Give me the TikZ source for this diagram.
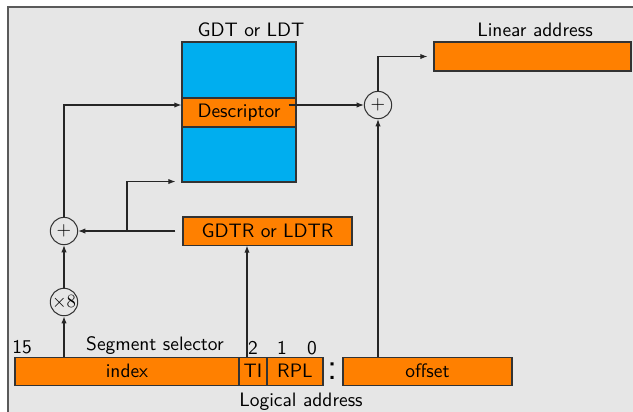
\documentclass[tikz,border=0pt]{standalone}
\usetikzlibrary{arrows.meta,fit,calc}
\definecolor{bgg}{RGB}{230,230,230}
\definecolor{frameg}{RGB}{90,90,90}
\definecolor{cy}{RGB}{0,174,239}
\definecolor{org}{RGB}{255,128,0}
\begin{document}
\begin{tikzpicture}[x=0.535pt,y=-0.535pt,font=\sffamily\fontsize{10.4}{12.5}\selectfont,line width=0.55pt,
  >={Latex[length=3.8pt,width=2.8pt]},
  box/.style={draw=black!80,fill=org,inner sep=0pt},
  tbl/.style={draw=black!80,fill=cy,inner sep=0pt},
  txt/.style={inner sep=0pt},
  opc/.style={draw=black!80,circle,inner sep=0pt,minimum size=14.6pt},
  lbl/.style={anchor=base,inner sep=0pt},
  conn/.style={draw=black!85,->}]
\useasboundingbox (0,0) rectangle (633,411);
\fill[bgg] (8,7) rectangle (645,425);
\draw[frameg,line width=0.6pt] (8,425) -- (8,7) -- (645,7);
% table
\node[tbl,fit={(182,42)(296,182)}] (gdt) {};
\node[box,fit={(182,98)(296,127)}] (desc) {};
\node[txt] (desct) at (desc.center) {Descriptor};
\node[lbl] (gdtlbl) at (251,36) {GDT or LDT};
% linear address
\node[box,fit={(434,42)(631,71)}] (lin) {};
\node[lbl] (linlbl) at (535,36) {Linear address};
% GDTR
\node[box,fit={(183,217)(352,245)}] (gdtr) {};
\node[txt] (gdtrt) at (gdtr.center) {GDTR or LDTR};
% selector
\node[box,fit={(15,357)(239,385)}] (index) {};
\node[txt] (indext) at (index.center) {index};
\node[box,fit={(239,357)(267,385)}] (ti) {};
\node[txt] (tit) at (ti.center) {TI};
\node[box,fit={(267,357)(323,385)}] (rpl) {};
\node[txt] (rplt) at (rpl.center) {RPL};
\node[box,fit={(343,357)(512,385)}] (off) {};
\node[txt] (offt) at (off.center) {offset};
\node[inner sep=0pt] (colon) at (333,371) {\huge :};
\node[lbl] (b15) at (22,353) {15};
\node[lbl] (seg) at (155,350) {Segment selector};
\node[lbl] (b2) at (253,354) {2};
\node[lbl] (b1) at (282,354) {1};
\node[lbl] (b0) at (312,354) {0};
\node[lbl] (logl) at (301,406) {Logical address};
% operators
\node[opc] (p1) at (64,231) {$+$};
\node[opc] (x8) at (64,302) {$\times 8$};
\node[opc] (pt) at (378,105) {$+$};
% connectors
\draw[conn] (index.north -| x8.south) -- (x8.south);
\draw[conn] (x8) -- (p1);
\draw[conn] (p1.north) |- ($(desc.west)+(0,-7.5)$);
\draw[conn] ($(desc.east)+(-8,-7.5)$) -- (pt.west);
\draw[conn] (pt.north) |- ($(lin.west)+(-6,0)$);
\draw[conn] (off.north -| pt.south) -- (pt.south);
\coordinate (tiup) at ($(ti.north)+(-6,0)$);
\draw[conn] (tiup) -- (tiup |- gdtr.south);
\draw[conn] ($(gdtr.west)+(-7,0)$) -- (p1.east);
\coordinate (br) at (127,231);
\draw[conn] (br) |- ($(gdt.south west)+(-6,-1)$);
\end{tikzpicture}
\end{document}
